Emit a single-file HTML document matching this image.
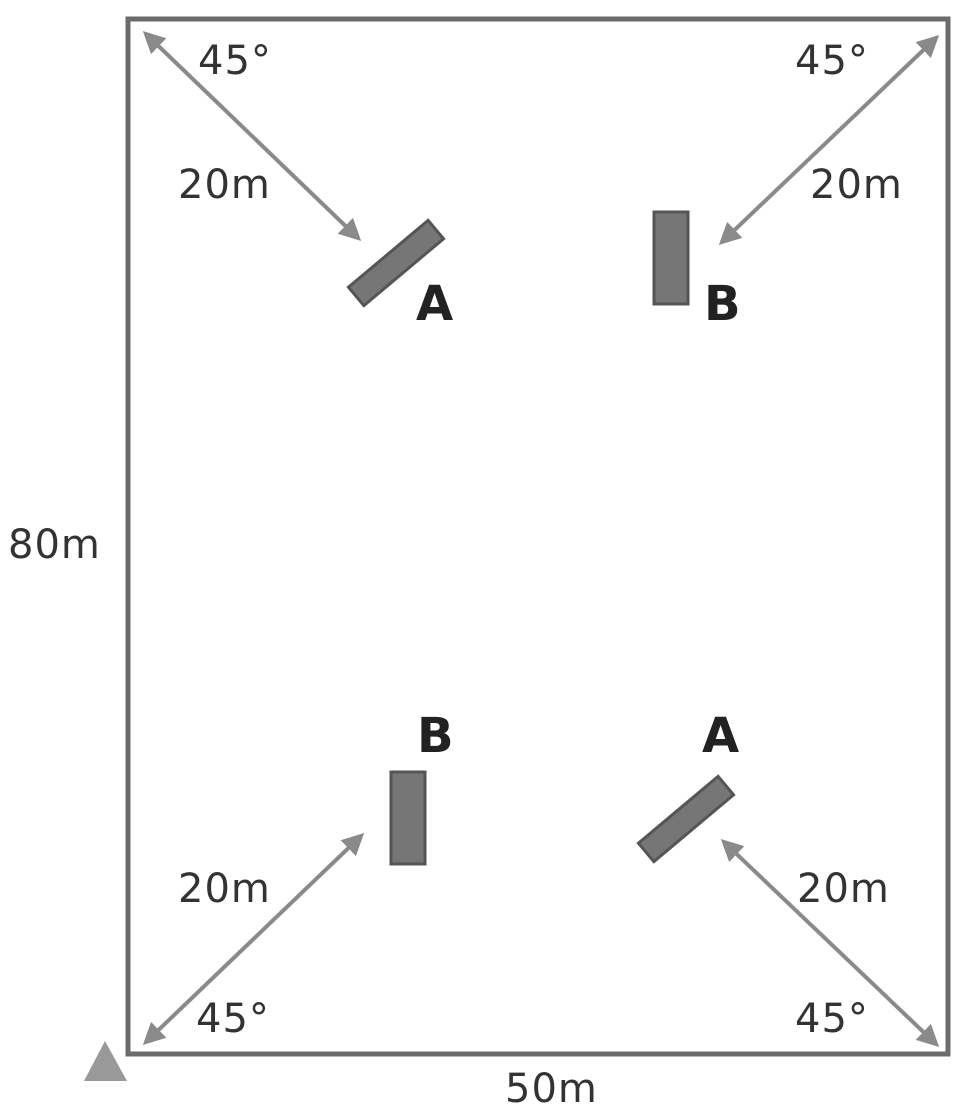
<!DOCTYPE html>
<html><head><style>html,body{margin:0;padding:0;background:#fff}svg{display:block}</style></head>
<body>
<svg width="973" height="1117" viewBox="0 0 973 1117" xmlns="http://www.w3.org/2000/svg">
<defs>
<marker id="ah" viewBox="0 0 10 10" refX="8" refY="5" markerWidth="5.5" markerHeight="5.5" orient="auto-start-reverse">
<path d="M0,0 L10,5 L0,10 z" fill="#8a8a8a"/></marker>
</defs>
<rect x="128" y="19" width="820" height="1035" fill="none" stroke="#6b6b6b" stroke-width="5"/>
<g stroke="#8a8a8a" stroke-width="4" marker-start="url(#ah)" marker-end="url(#ah)">
<line x1="146" y1="34" x2="358" y2="238"/>
<line x1="936" y1="38" x2="722" y2="242"/>
<line x1="146" y1="1042" x2="361" y2="836"/>
<line x1="936" y1="1044" x2="724" y2="842"/>
</g>
<g fill="#767676" stroke="#555" stroke-width="3">
<rect x="-52" y="-12" width="104" height="24" transform="translate(396,263) rotate(-40)"/>
<rect x="654" y="212" width="34" height="92"/>
<rect x="391" y="772" width="34" height="92"/>
<rect x="-52" y="-12" width="104" height="24" transform="translate(686,819) rotate(-40)"/>
</g>
<g font-family="'DejaVu Sans','Liberation Sans',sans-serif" font-size="40" fill="#333" letter-spacing="1">
<text x="198" y="74">45°</text>
<text x="178" y="198">20m</text>
<text x="795" y="74">45°</text>
<text x="810" y="198">20m</text>
<text x="178" y="902">20m</text>
<text x="196" y="1032">45°</text>
<text x="797" y="902">20m</text>
<text x="795" y="1032">45°</text>
<text x="8" y="558">80m</text>
<text x="505" y="1102">50m</text>
</g>
<g font-family="'DejaVu Sans','Liberation Sans',sans-serif" font-size="48" font-weight="bold" fill="#222">
<text x="416" y="320">A</text>
<text x="704" y="320">B</text>
<text x="417" y="752">B</text>
<text x="702" y="752">A</text>
</g>
<polygon points="84,1081 127,1081 105,1041" fill="#999"/>
</svg>
</body></html>
